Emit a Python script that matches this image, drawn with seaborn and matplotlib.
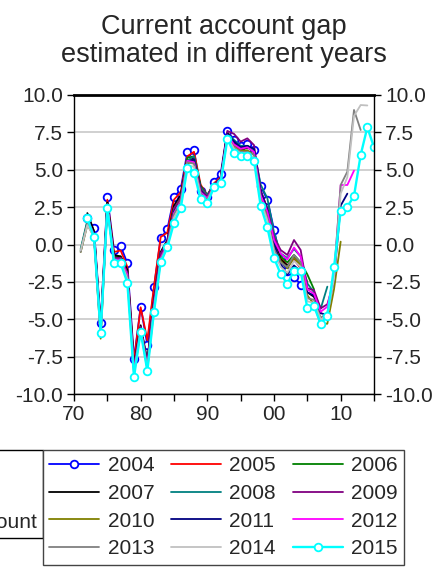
import numpy as np
import pandas as pd
import seaborn as sns
import matplotlib.pyplot as plt
from matplotlib.patches import Rectangle

sns.set_theme(style='ticks')
plt.rcParams['font.family'] = ['Liberation Sans', 'DejaVu Sans']
plt.rcParams['axes.unicode_minus'] = False

# current account gap by vintage, values from 1971 to the vintage year
years = list(range(1971, 2016))
nan = np.nan

gap_2004 = [nan, 1.8, 1.08, -5.27, 3.16, -0.37, -0.1, -1.25, -7.66, -4.16, -6.7, -2.86, 0.41, 1.02, 3.16,
            3.69, 6.17, 6.32, 3.6, 3.2, 4.2, 4.7, 7.61, 7.0, 6.6, 6.7, 6.3, 3.9, 3.0, 1.0, -1.0, -1.8,
            -2.15, -2.7]
gap_2005 = [nan, 1.9, 0.9, -5.4, 3.0, -0.5, -0.4, -1.5, -7.8, -4.2, -6.4, -2.8, 0.5, 0.8, 3.0, 3.5,
            5.9, 6.2, 4.0, 3.3, 4.1, 4.5, 7.5, 6.9, 6.5, 6.6, 6.2, 3.4, 2.2, 0.2, -0.9, -1.4, -1.0,
            -1.6, -2.5]
gap_2006 = [-0.4, 1.5, 0.7, -5.9, 2.8, -0.8, -0.8, -1.8, -8.2, -5.5, -7.9, -3.8, -0.6, 0.2, 2.5, 3.2,
            5.8, 5.9, 3.9, 3.3, 4.0, 4.4, 7.4, 6.8, 6.4, 6.5, 6.2, 3.5, 2.3, 0.4, -0.8, -1.2, -0.7,
            -1.2, -2.0, -3.0]
gap_2007 = [nan, 2.1, 0.9, -5.6, 2.8, -0.7, -0.8, -1.7, -8.1, -5.4, -7.8, -3.7, -0.5, 0.3, 2.6, 3.3,
            5.6, 5.8, 3.8, 3.2, 4.0, 4.4, 7.5, 6.8, 6.3, 6.5, 6.3, 3.6, 2.4, 0.3, -1.0, -1.4, -0.9,
            -1.4, -3.2, -3.5, -4.6]
gap_2008 = [-0.3, 1.6, 0.7, -5.8, 2.7, -0.9, -0.9, -1.9, -8.3, -5.6, -8.0, -3.9, -0.7, 0.1, 2.4, 3.1,
            5.6, 5.9, 3.8, 3.3, 4.0, 4.4, 7.4, 7.0, 6.6, 6.6, 6.3, 4.0, 3.1, 0.8, -0.6, -0.9, -0.3,
            -0.8, -2.6, -3.2, -4.3, -2.82]
gap_2009 = [nan, 1.8, 0.6, -5.7, 2.7, -0.9, -0.9, -1.9, -8.2, -5.5, -7.9, -3.8, -0.6, 0.2, 2.4, 3.1,
            5.5, 5.7, 3.7, 3.2, 4.0, 4.4, 7.6, 7.4, 6.88, 7.1, 6.65, 3.6, 2.4, 0.5, -0.37, -0.7, 0.3,
            -0.37, -2.93, -3.05, -4.27, -4.0, -2.5]
gap_2010 = [-0.5, 1.3, 0.6, -6.3, 2.6, -1.0, -1.0, -2.0, -8.4, -5.7, -8.2, -4.1, -0.9, 0.0, 2.2, 3.0,
            5.4, 5.6, 3.6, 3.1, 3.9, 4.3, 7.3, 6.6, 6.3, 6.3, 6.0, 3.2, 2.0, 0.0, -1.1, -1.6, -0.9,
            -1.4, -3.4, -4.0, -5.3, -5.3, -3.0, 0.19]
gap_2011 = [nan, 1.8, 0.6, -5.8, 2.6, -1.0, -1.0, -2.0, -8.4, -5.7, -8.2, -4.1, -0.9, 0.0, 2.2, 2.9,
            5.5, 5.7, 3.6, 3.1, 3.9, 4.3, 7.4, 6.9, 6.5, 6.6, 6.4, 3.5, 2.3, 0.1, -1.3, -2.0, -1.4,
            -1.8, -3.2, -3.4, -4.6, -4.7, -2.3, 2.6, 3.4]
gap_2012 = [nan, 1.7, 0.6, -5.9, 2.6, -1.0, -1.0, -2.0, -8.4, -5.7, -8.2, -4.1, -0.9, 0.0, 2.1, 2.9,
            5.6, 5.5, 3.5, 3.1, 3.9, 4.3, 7.3, 6.7, 6.4, 6.5, 6.2, 3.3, 2.2, 0.3, -0.6, -1.0, -0.2,
            -0.8, -3.0, -3.3, -4.5, -4.16, -2.16, 3.98, 3.98, 4.94]
gap_2013 = [-0.5, 1.4, 0.5, -6.1, 2.5, -1.1, -1.1, -2.2, -8.6, -5.7, -8.3, -4.3, -1.0, -0.1, 2.0, 2.8,
            5.5, 5.4, 3.4, 3.0, 3.9, 4.2, 7.2, 6.5, 6.2, 6.2, 6.0, 3.0, 1.8, -0.3, -1.2, -1.5, -0.7,
            -1.2, -3.6, -3.7, -4.9, -4.6, -2.0, 3.98, 4.87, 9.0, 7.66]
gap_2014 = [-0.4, 1.3, 0.5, -6.0, 2.5, -1.1, -1.1, -2.3, -8.7, -5.8, -8.4, -4.4, -1.1, -0.1, 1.8, 2.6,
            5.3, 5.2, 3.3, 2.9, 3.9, 4.2, 7.2, 6.4, 6.1, 6.1, 5.8, 2.9, 1.6, -0.5, -1.5, -1.9, -1.1,
            -1.5, -3.8, -3.9, -5.0, -4.8, -2.3, 3.4, 4.5, 8.6, 9.33, 9.3]
gap_2015 = [nan, 1.75, 0.48, -5.9, 2.46, -1.26, -1.26, -2.55, -8.86, -5.83, -8.46, -4.49, -1.2, -0.19,
            1.46, 2.42, 5.1, 4.8, 3.02, 2.75, 3.83, 4.13, 7.04, 6.14, 5.92, 5.92, 5.6, 2.58, 1.15,
            -0.9, -1.97, -2.64, -1.75, -1.75, -4.27, -4.11, -5.32, -4.75, -1.53, 2.26, 2.53, 3.24,
            5.99, 7.84, 6.5]

vintages = ['2004', '2005', '2006', '2007', '2008', '2009',
            '2010', '2011', '2012', '2013', '2014', '2015']
series = [gap_2004, gap_2005, gap_2006, gap_2007, gap_2008, gap_2009,
          gap_2010, gap_2011, gap_2012, gap_2013, gap_2014, gap_2015]
colors = ['#0000ff', '#ff0000', '#008000', '#000000', '#008080', '#800080',
          '#808000', '#000080', '#ff00ff', '#808080', '#c0c0c0', '#00ffff']

rows = []
for v, vals in zip(vintages, series):
    for yr, g in zip(years, vals):
        rows.append((v, yr, g))
df = pd.DataFrame(rows, columns=['vintage', 'year', 'gap'])

fig = plt.figure(figsize=(4.48, 5.67), dpi=100)
ax = fig.add_axes([74/448, 1-394/567, 300/448, 299/567])

for v, c in zip(vintages, colors):
    d = df[df['vintage'] == v]
    if v in ('2004', '2015'):
        sns.lineplot(data=d, x='year', y='gap', ax=ax, color=c, label=v,
                     lw=1.7 if v == '2015' else 1.3, marker='o', markersize=5.5,
                     markerfacecolor='white', markeredgecolor=c, markeredgewidth=1.3)
    else:
        sns.lineplot(data=d, x='year', y='gap', ax=ax, color=c, label=v, lw=1.3)

ax.set_xlim(1970, 2015)
ax.set_ylim(-10, 10)
ax.set_xlabel('')
ax.set_ylabel('')
ax.set_xticks(range(1970, 2016, 5))
ax.set_xticklabels(['70', '', '80', '', '90', '', '00', '', '10', ''])
yt = [-10, -7.5, -5, -2.5, 0, 2.5, 5, 7.5, 10]
ax.set_yticks(yt)
ax.set_yticklabels(['%.1f' % t for t in yt])
ax.tick_params(axis='both', direction='out', length=5, width=1, color='black',
               labelsize=15, pad=3, right=True, labelright=True, left=True, bottom=True)
ax.grid(axis='y', color='#c8c8c8', lw=1.2)
ax.grid(axis='x', visible=False)
for s in ax.spines.values():
    s.set_color('black')
    s.set_linewidth(1)
ax.spines['top'].set_linewidth(2)
ax.get_legend().remove()

fig.text(0.5, 1-34/567, 'Current account gap', ha='center', va='baseline', fontsize=19.5)
fig.text(0.5, 1-62/567, 'estimated in different years', ha='center', va='baseline', fontsize=19.5)

# legend is filled row by row in the reference
handles, labels = ax.get_legend_handles_labels()
order = [0, 3, 6, 9, 1, 4, 7, 10, 2, 5, 8, 11]
leg = fig.legend([handles[i] for i in order], [labels[i] for i in order], ncol=3, loc='upper left',
                 bbox_to_anchor=(43/448, 1-450/567), fontsize=15,
                 frameon=True, fancybox=False, edgecolor='#444444', framealpha=1,
                 handlelength=2.4, handletextpad=0.4, columnspacing=0.8,
                 labelspacing=0.42, borderpad=0.3, borderaxespad=0)
leg.get_frame().set_linewidth(1)

fig.patches.append(Rectangle((-0.05, 1-538/567), 0.05+43/448, 88/567, transform=fig.transFigure,
                             fill=False, edgecolor='black', lw=1, figure=fig))
fig.text(37/448, 1-522/567, 'Current account', ha='right', va='center', fontsize=15)

fig.savefig('out.png', dpi=100)
